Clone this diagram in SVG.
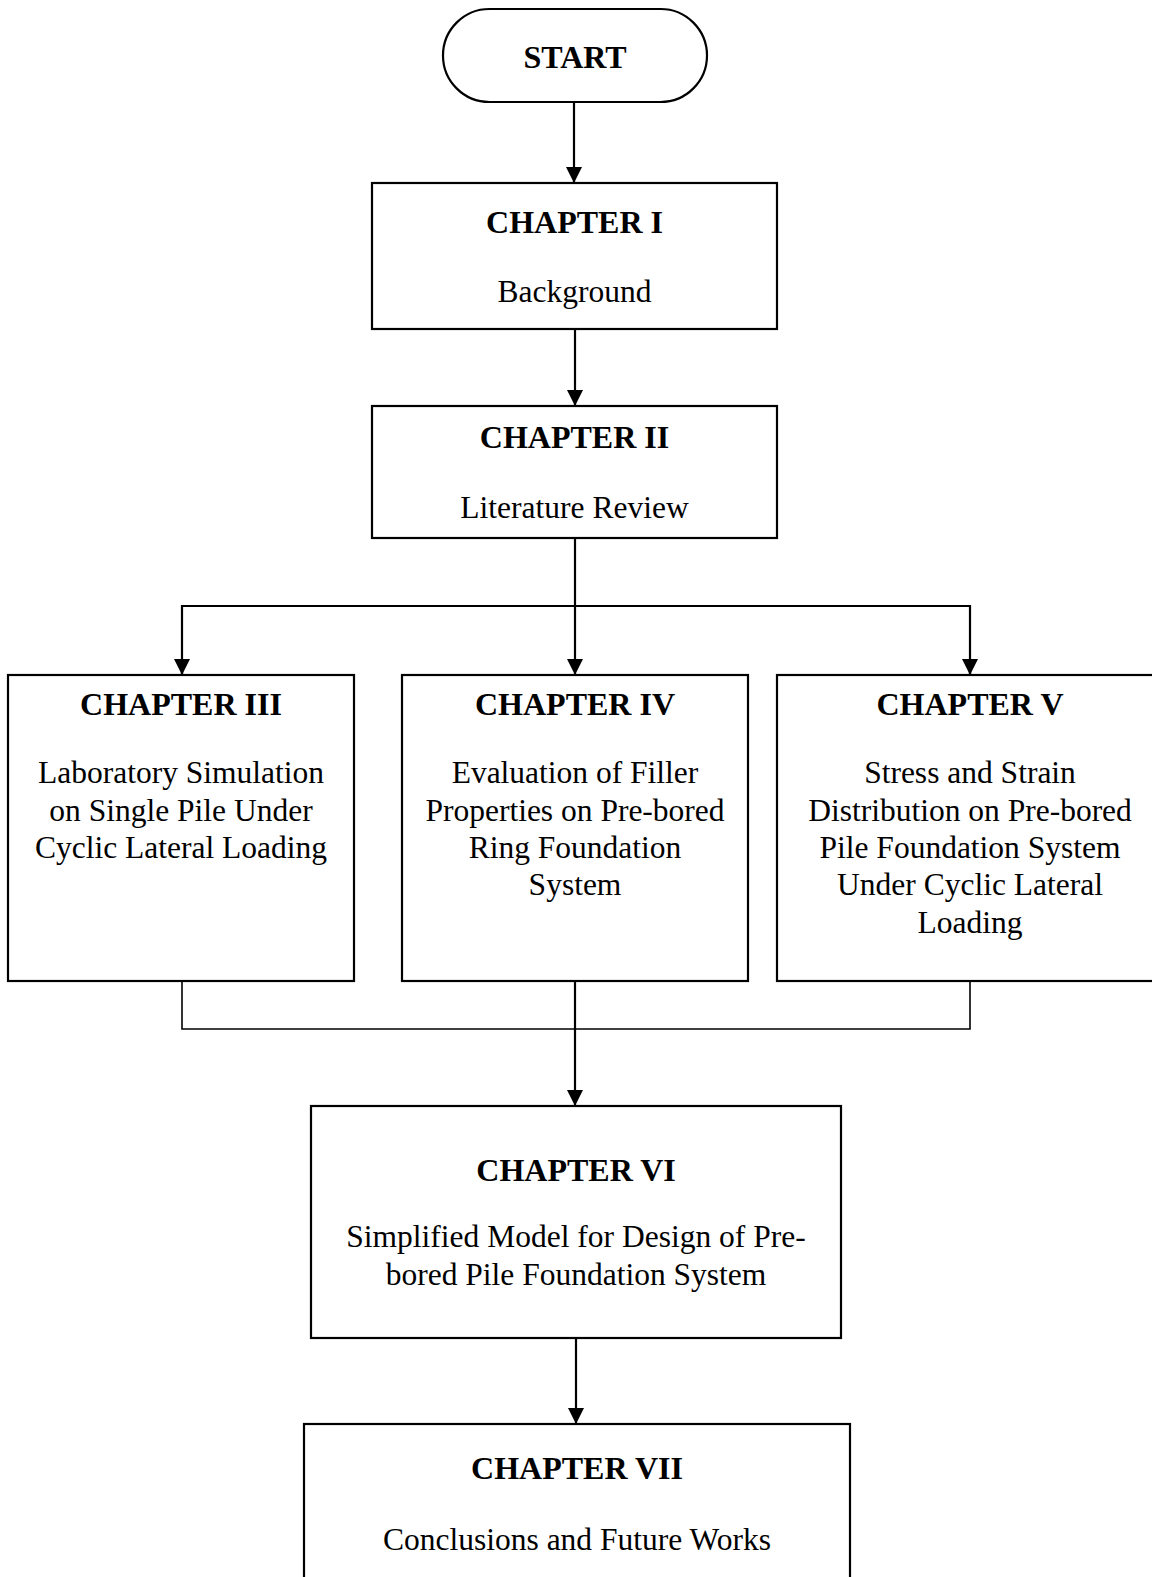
<svg xmlns="http://www.w3.org/2000/svg" width="1152" height="1577" viewBox="0 0 1152 1577">
<style>
.box{fill:#fff;stroke:#000;stroke-width:2.2}
.t{font-family:"Liberation Serif","Times New Roman",serif;font-weight:bold;font-size:32px;text-anchor:middle;fill:#000}
.b{font-family:"Liberation Serif","Times New Roman",serif;font-size:31.5px;text-anchor:middle;fill:#000}
.c{fill:none;stroke:#000;stroke-width:2.2}
.m{fill:none;stroke:#000;stroke-width:1.6}
</style>
<defs>
<marker id="ah" markerUnits="userSpaceOnUse" markerWidth="16" markerHeight="16" viewBox="0 0 16 16" refX="16" refY="8" orient="auto">
<path d="M0,0 L16,8 L0,16 Z" fill="#000"/>
</marker>
</defs>
<rect width="1152" height="1577" fill="#fff"/>
<g id="connectors">
<line class="c" x1="574" y1="102" x2="574" y2="183" marker-end="url(#ah)"/>
<line class="c" x1="575" y1="329" x2="575" y2="406" marker-end="url(#ah)"/>
<line class="c" x1="575" y1="538" x2="575" y2="675" marker-end="url(#ah)"/>
<polyline class="c" points="182,675 182,606 970,606 970,675"/>
<line class="c" x1="182" y1="659" x2="182" y2="675" marker-end="url(#ah)"/>
<line class="c" x1="970" y1="659" x2="970" y2="675" marker-end="url(#ah)"/>
<polyline class="m" points="182,981 182,1029 970,1029 970,981"/>
<line class="c" x1="575" y1="981" x2="575" y2="1106" marker-end="url(#ah)"/>
<line class="c" x1="576" y1="1338" x2="576" y2="1424" marker-end="url(#ah)"/>
</g>
<g id="start">
<rect class="box" x="443" y="9" width="264" height="93" rx="46.5" ry="46.5"/>
<text class="t" x="575" y="68">START</text>
</g>
<g id="ch1">
<rect class="box" x="372" y="183" width="405" height="146"/>
<text class="t" x="574.5" y="233">CHAPTER I</text>
<text class="b" x="574.5" y="302">Background</text>
</g>
<g id="ch2">
<rect class="box" x="372" y="406" width="405" height="132"/>
<text class="t" x="574.5" y="448">CHAPTER II</text>
<text class="b" x="574.5" y="518">Literature Review</text>
</g>
<g id="ch3">
<rect class="box" x="8" y="675" width="346" height="306"/>
<text class="t" x="181" y="715">CHAPTER III</text>
<text class="b" x="181" y="783">Laboratory Simulation</text>
<text class="b" x="181" y="821">on Single Pile Under</text>
<text class="b" x="181" y="858">Cyclic Lateral Loading</text>
</g>
<g id="ch4">
<rect class="box" x="402" y="675" width="346" height="306"/>
<text class="t" x="575" y="715">CHAPTER IV</text>
<text class="b" x="575" y="783">Evaluation of Filler</text>
<text class="b" x="575" y="821">Properties on Pre-bored</text>
<text class="b" x="575" y="858">Ring Foundation</text>
<text class="b" x="575" y="895">System</text>
</g>
<g id="ch5">
<rect class="box" x="777" y="675" width="390" height="306"/>
<text class="t" x="970" y="715">CHAPTER V</text>
<text class="b" x="970" y="783">Stress and Strain</text>
<text class="b" x="970" y="821">Distribution on Pre-bored</text>
<text class="b" x="970" y="858">Pile Foundation System</text>
<text class="b" x="970" y="895">Under Cyclic Lateral</text>
<text class="b" x="970" y="933">Loading</text>
</g>
<g id="ch6">
<rect class="box" x="311" y="1106" width="530" height="232"/>
<text class="t" x="576" y="1181">CHAPTER VI</text>
<text class="b" x="576" y="1247">Simplified Model for Design of Pre-</text>
<text class="b" x="576" y="1285">bored Pile Foundation System</text>
</g>
<g id="ch7">
<rect class="box" x="304" y="1424" width="546" height="200"/>
<text class="t" x="577" y="1479">CHAPTER VII</text>
<text class="b" x="577" y="1550">Conclusions and Future Works</text>
</g>
</svg>
